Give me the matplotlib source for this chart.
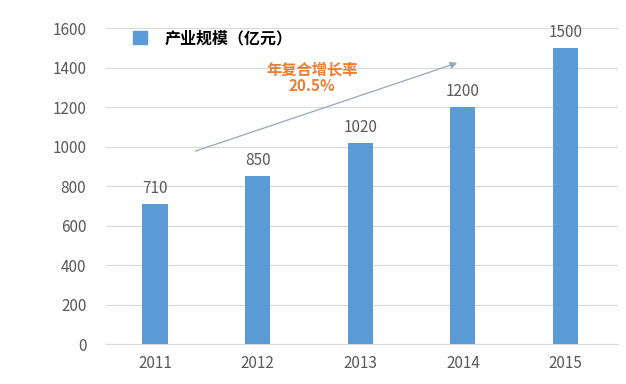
import matplotlib
matplotlib.use('Agg')
import matplotlib.pyplot as plt
from matplotlib.patches import Patch

plt.rcParams['font.family'] = ['Noto Sans CJK SC', 'DejaVu Sans']

years = ['2011', '2012', '2013', '2014', '2015']
scale = [710, 850, 1020, 1200, 1500]
yticks = [0, 200, 400, 600, 800, 1000, 1200, 1400, 1600]
legend_label = '产业规模（亿元）'
growth_text = '年复合增长率\n20.5%'

bar_color = '#5B9BD5'
grid_color = '#D9D9D9'
text_gray = '#595959'
orange = '#ED7D31'

fig = plt.figure(figsize=(6.26, 3.84), dpi=100)
ax = fig.add_axes([0.169, 0.104, 0.818, 0.823])

x = range(len(years))
ax.bar(x, scale, width=0.245, color=bar_color, zorder=3)

for xi, v in zip(x, scale):
    ax.text(xi, v + 35, str(v), ha='center', va='bottom', fontsize=11, color=text_gray)

ax.set_xlim(-0.48, 4.51)
ax.set_ylim(0, 1600)
ax.set_yticks(yticks)
ax.set_xticks(list(x))
ax.set_xticklabels(years)
ax.tick_params(axis='both', length=0, labelsize=11, labelcolor=text_gray)
ax.tick_params(axis='y', pad=14)
ax.tick_params(axis='x', pad=8)
ax.grid(axis='y', color=grid_color, linewidth=0.8, zorder=0)
for s in ['top', 'right', 'left']:
    ax.spines[s].set_visible(False)
ax.spines['bottom'].set_color(grid_color)

# growth arrow + label
ax.annotate('', xy=(2.97, 1428), xytext=(0.366, 972),
            arrowprops=dict(arrowstyle='-|>', color='#8EA9C1', lw=0.9,
                            mutation_scale=10), zorder=4)
ax.text(1.53, 1350, growth_text, ha='center', va='center', fontsize=11,
        fontweight='bold', color=orange, linespacing=1.05)

leg = ax.legend(handles=[Patch(color=bar_color, label=legend_label)],
                loc='center left', bbox_to_anchor=(0.213, 0.901),
                bbox_transform=fig.transFigure, frameon=False,
                handlelength=0.85, handleheight=0.85, handletextpad=1.1,
                borderaxespad=0, borderpad=0,
                prop={'size': 11.5, 'weight': 'bold'})

fig.savefig('out.png', dpi=100, facecolor='white')
